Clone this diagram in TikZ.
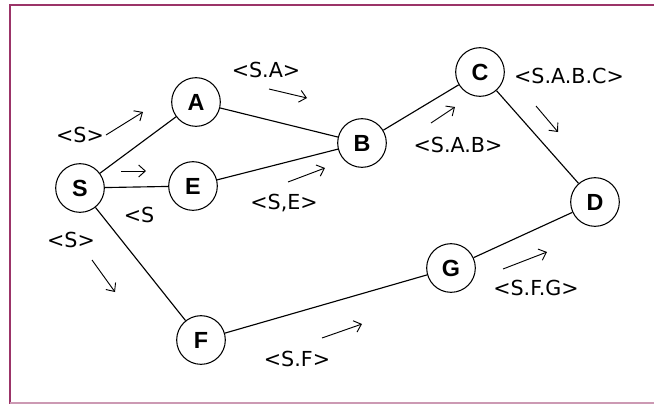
\documentclass[tikz,border=0pt]{standalone}
\usepackage{fontspec}
\setmainfont{Liberation Sans}
\newfontfamily\lblfont{DejaVu Sans}
\usetikzlibrary{arrows.meta}
\definecolor{frame}{HTML}{9B3468}
\definecolor{framelight}{HTML}{CC99B3}
\begin{document}
\begin{tikzpicture}[x=0.75pt,y=-0.75pt,
  vert/.style={circle,draw,line width=0.8pt,minimum size=36.5pt,inner sep=0pt,font=\fontsize{17.5}{17.5}\selectfont\bfseries},
  edge/.style={line width=0.85pt},
  lbl/.style={font=\lblfont\fontsize{15.5}{16}\selectfont,inner sep=0pt},
  dirarrow/.style={line width=0.7pt,-{Straight Barb[length=5pt,width=9pt]}}]
\useasboundingbox (0,0) rectangle (654,404);
\fill[white] (0,0) rectangle (654,404);
% frame
\draw[frame,line width=2.2pt] (9,5) -- (654,5);
\draw[frame,line width=2.2pt] (10,4) -- (10,404);
\draw[framelight,line width=1.2pt] (10,403) -- (654,403);
% vertices
\node[vert] (S) at (80,188) {S};
\node[vert] (A) at (196,102) {A};
\node[vert] (E) at (193,186) {E};
\node[vert] (B) at (362,143) {B};
\node[vert] (C) at (480,72) {C};
\node[vert] (D) at (595,202) {D};
\node[vert] (G) at (451,268) {G};
\node[vert] (F) at (201,340) {F};
% edges
\draw[edge] (S) -- (A);
\draw[edge] (S) -- (E);
\draw[edge] (S) -- (F);
\draw[edge] (A) -- (B);
\draw[edge] (E) -- (B);
\draw[edge] (B) -- (C);
\draw[edge] (C) -- (D);
\draw[edge] (F) -- (G);
\draw[edge] (G) -- (D);
% labels
\node[lbl] (lSA) at (266,70) {<S.A>};
\node[lbl] (lS1) at (80,135) {<S>};
\node[lbl] (lS2) at (139,215) {<S};
\node[lbl] (lSE) at (284,203) {<S,E>};
\node[lbl] (lSAB) at (458,145) {<S.A.B>};
\node[lbl] (lSABC) at (569,76) {<S.A.B.C>};
\node[lbl] (lS3) at (71,240) {<S>};
\node[lbl] (lSF) at (297,359) {<S.F>};
\node[lbl] (lSFG) at (536,288) {<S.F.G>};
% direction arrows
\coordinate (a1s) at (269,89); \coordinate (a1e) at (307,98);
\coordinate (a2s) at (106,135); \coordinate (a2e) at (143,112);
\coordinate (a3s) at (121,171); \coordinate (a3e) at (146,171);
\coordinate (a4s) at (288,182); \coordinate (a4e) at (325,168);
\coordinate (a5s) at (431,123); \coordinate (a5e) at (455,107);
\coordinate (a6s) at (536,106); \coordinate (a6e) at (558,132);
\coordinate (a7s) at (92,260); \coordinate (a7e) at (115,292);
\coordinate (a8s) at (322,338); \coordinate (a8e) at (362,324);
\coordinate (a9s) at (503,269); \coordinate (a9e) at (547,252);
\draw[dirarrow] (a1s) -- (a1e);
\draw[dirarrow] (a2s) -- (a2e);
\draw[dirarrow] (a3s) -- (a3e);
\draw[dirarrow] (a4s) -- (a4e);
\draw[dirarrow] (a5s) -- (a5e);
\draw[dirarrow] (a6s) -- (a6e);
\draw[dirarrow] (a7s) -- (a7e);
\draw[dirarrow] (a8s) -- (a8e);
\draw[dirarrow] (a9s) -- (a9e);
\end{tikzpicture}
\end{document}
